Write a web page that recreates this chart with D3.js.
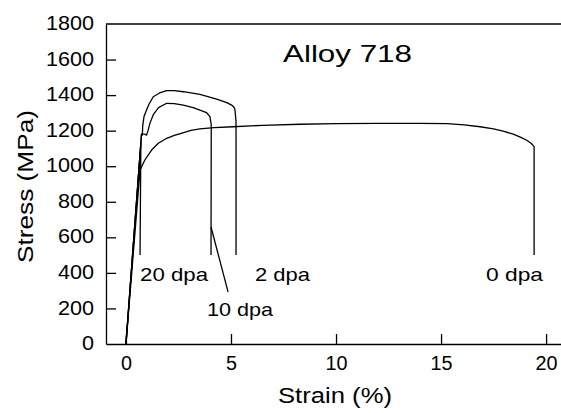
<!DOCTYPE html>
<html>
<head>
<meta charset="utf-8">
<script src="https://cdn.jsdelivr.net/npm/d3@7"></script>
<style>
  html, body { margin: 0; padding: 0; background: #fff; }
  svg { display: block; font-family: "Liberation Sans", Arial, Helvetica, sans-serif; }
</style>
</head>
<body>
<svg id="chart" width="561" height="413"></svg>
<script>
// ---- Data (strain %, stress MPa) ----
const dpa0Strain  = [0, 0.67, 0.9, 1.22, 1.54, 1.94, 2.3, 2.71, 3.1, 3.52, 4.2, 5.1, 6.5, 8.29, 10, 12, 14, 15.3, 16.1, 16.86, 17.5, 18.0, 18.44, 18.8, 19.08, 19.3, 19.43, 19.43];
const dpa0Stress  = [0, 979, 1035, 1091, 1129, 1157, 1174, 1188, 1202, 1210, 1217, 1222, 1230, 1236, 1240, 1241, 1241, 1240, 1233, 1222, 1210, 1196, 1180, 1162, 1146, 1128, 1110, 500];

const dpa2Strain  = [0, 0.74, 0.78, 0.8, 0.86, 0.98, 1.1, 1.3, 1.6, 1.94, 2.3, 2.73, 3.52, 4.32, 4.8, 5.03, 5.15, 5.19, 5.24, 5.24];
const dpa2Stress  = [0, 1180, 1175, 1230, 1280, 1316, 1350, 1391, 1412, 1425, 1425, 1419, 1404, 1378, 1358, 1344, 1330, 1316, 1250, 500];

const dpa10Strain = [0, 0.74, 0.9, 0.98, 1.05, 1.14, 1.3, 1.55, 1.94, 2.3, 2.73, 3.2, 3.52, 3.84, 4.0, 4.06, 4.05];
const dpa10Stress = [0, 1180, 1180, 1175, 1200, 1241, 1290, 1330, 1354, 1352, 1344, 1330, 1316, 1301, 1279, 1232, 500];

const dpa20Strain = [0, 0.71, 0.67];
const dpa20Stress = [0, 1129, 500];

const seriesLabels = ["0 dpa", "2 dpa", "10 dpa", "20 dpa"];
const labelStrain  = [17.14, 6.14, 3.86, 0.67];
const labelStress  = [354, 354, 157, 354];

// leader line for "10 dpa"
const leaderStrain = [4.05, 4.86];
const leaderStress = [658, 293];

const xTicks = [0, 5, 10, 15, 20];
const yTicks = [0, 200, 400, 600, 800, 1000, 1200, 1400, 1600, 1800];

const titleText = "Alloy 718";
const xLabel = "Strain (%)";
const yLabel = "Stress (MPa)";

// ---- Layout ----
const svg = d3.select("#chart");
const mLeft = 106, mRight = 561, mTop = 24, mBottom = 344;

const x = d3.scaleLinear().domain([-0.95, 20.71]).range([mLeft, mRight]);
const y = d3.scaleLinear().domain([0, 1800]).range([mBottom, mTop]);

// axes
const yAxis = d3.axisLeft(y).tickValues(yTicks).tickFormat(d3.format("d"))
  .tickSize(-10).tickSizeOuter(0).tickPadding(12);
const xAxis = d3.axisBottom(x).tickValues(xTicks).tickFormat(d3.format("d"))
  .tickSize(-10).tickSizeOuter(0).tickPadding(12);

const gy = svg.append("g").attr("transform", `translate(${mLeft},0)`).call(yAxis);
gy.selectAll("text").attr("font-size", 20).attr("font-family", "Liberation Sans, Arial, sans-serif")
  .attr("fill", "#000").attr("dy", "0.28em")
  .attr("textLength", d => String(d).length * 12).attr("lengthAdjust", "spacingAndGlyphs");
gy.selectAll("line, path").attr("stroke", "#000").attr("stroke-width", 1.3);
gy.selectAll(".tick").filter(d => d === 0 || d === 1800).select("line").remove();

const gx = svg.append("g").attr("transform", `translate(0,${mBottom})`).call(xAxis);
gx.selectAll("text").attr("font-size", 20).attr("font-family", "Liberation Sans, Arial, sans-serif")
  .attr("fill", "#000")
  .attr("textLength", d => String(d).length * 11).attr("lengthAdjust", "spacingAndGlyphs");
gx.selectAll("line, path").attr("stroke", "#000").attr("stroke-width", 1.3);

// top border
svg.append("line").attr("x1", mLeft).attr("x2", mRight).attr("y1", y(1800)).attr("y2", y(1800))
  .attr("stroke", "#000").attr("stroke-width", 1.3);

// curves
const line = d3.line().x(d => x(d[0])).y(d => y(d[1]));
const curves = [
  [dpa0Strain, dpa0Stress],
  [dpa2Strain, dpa2Stress],
  [dpa10Strain, dpa10Stress],
  [dpa20Strain, dpa20Stress]
];
curves.forEach(([xs, ys]) => {
  svg.append("path")
    .datum(xs.map((v, i) => [v, ys[i]]))
    .attr("d", line)
    .attr("fill", "none")
    .attr("stroke", "#000")
    .attr("stroke-width", 1.3)
    .attr("stroke-linejoin", "round");
});

// leader line
svg.append("path")
  .datum(leaderStrain.map((v, i) => [v, leaderStress[i]]))
  .attr("d", line).attr("fill", "none").attr("stroke", "#000").attr("stroke-width", 1.3);

// series labels
const labelWidths = [57, 55, 66, 68];
svg.selectAll(".lbl").data(seriesLabels).enter().append("text")
  .attr("class", "lbl")
  .attr("x", (d, i) => x(labelStrain[i]))
  .attr("y", (d, i) => y(labelStress[i]))
  .attr("text-anchor", "start")
  .attr("font-size", 19)
  .attr("fill", "#000")
  .attr("textLength", (d, i) => labelWidths[i]).attr("lengthAdjust", "spacingAndGlyphs")
  .text(d => d);

// title
svg.append("text")
  .attr("x", 283).attr("y", 62)
  .attr("font-size", 24)
  .attr("fill", "#000")
  .attr("textLength", 129).attr("lengthAdjust", "spacingAndGlyphs")
  .text(titleText);

// x label
svg.append("text")
  .attr("x", 278).attr("y", 403)
  .attr("font-size", 22)
  .attr("fill", "#000")
  .attr("textLength", 114).attr("lengthAdjust", "spacingAndGlyphs")
  .text(xLabel);

// y label
svg.append("text")
  .attr("transform", "translate(33,263) rotate(-90)")
  .attr("font-size", 22)
  .attr("fill", "#000")
  .attr("textLength", 153).attr("lengthAdjust", "spacingAndGlyphs")
  .text(yLabel);
</script>
</body>
</html>
